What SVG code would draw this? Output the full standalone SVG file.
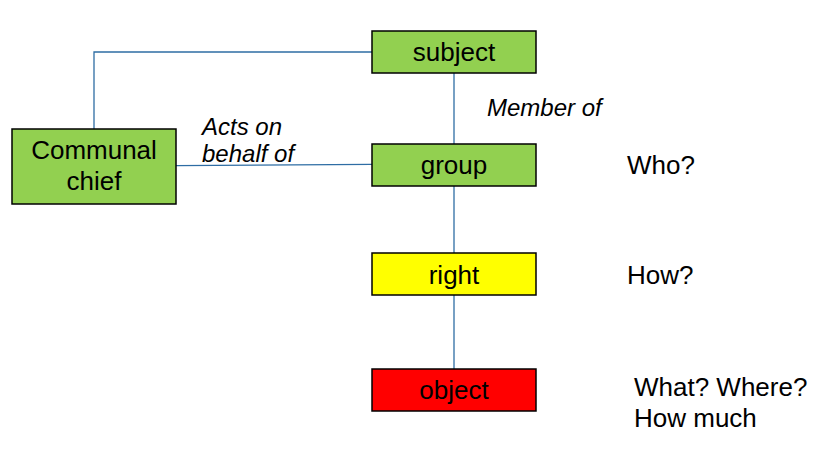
<svg xmlns="http://www.w3.org/2000/svg" width="839" height="464" viewBox="0 0 839 464">
<style>
.box{stroke:#000;stroke-width:1.5}
.g{fill:#92D050}.y{fill:#FFFF00}.r{fill:#FF0000}
.t{font-family:"Liberation Sans",Arial,sans-serif;font-size:26px;fill:#000}
.c{text-anchor:middle}
.i{font-family:"Liberation Sans",Arial,sans-serif;font-size:24px;font-style:italic;fill:#000}
.ln{stroke:#2E6DA4;stroke-width:1.3;fill:none}
</style>
<rect width="839" height="464" fill="#fff"/>
<g id="connectors">
<polyline class="ln" points="94,129 94,52 372,52"/>
<line class="ln" x1="176" y1="165.7" x2="372" y2="164.3"/>
<line class="ln" x1="454" y1="73" x2="454" y2="144"/>
<line class="ln" x1="454" y1="186" x2="454" y2="253"/>
<line class="ln" x1="454" y1="295" x2="454" y2="369"/>
</g>
<g id="subject"><rect class="box g" x="372" y="31" width="164" height="42"/><text class="t c" x="454" y="61">subject</text></g>
<g id="group"><rect class="box g" x="372" y="144" width="164" height="42"/><text class="t c" x="454" y="174">group</text></g>
<g id="right"><rect class="box y" x="372" y="253" width="164" height="42"/><text class="t c" x="454" y="284">right</text></g>
<g id="object"><rect class="box r" x="372" y="369" width="164" height="42"/><text class="t c" x="454" y="399">object</text></g>
<g id="chief"><rect class="box g" x="12" y="129" width="164" height="75"/><text class="t c" x="94" y="159">Communal</text><text class="t c" x="94" y="190">chief</text></g>
<g id="labels">
<text class="i" x="202" y="135">Acts on</text>
<text class="i" x="202" y="162">behalf of</text>
<text class="i" x="487" y="116">Member of</text>
<text class="t" x="627" y="174">Who?</text>
<text class="t" x="627" y="284">How?</text>
<text class="t" x="634" y="396">What? Where?</text>
<text class="t" x="634" y="427">How much</text>
</g>
</svg>
